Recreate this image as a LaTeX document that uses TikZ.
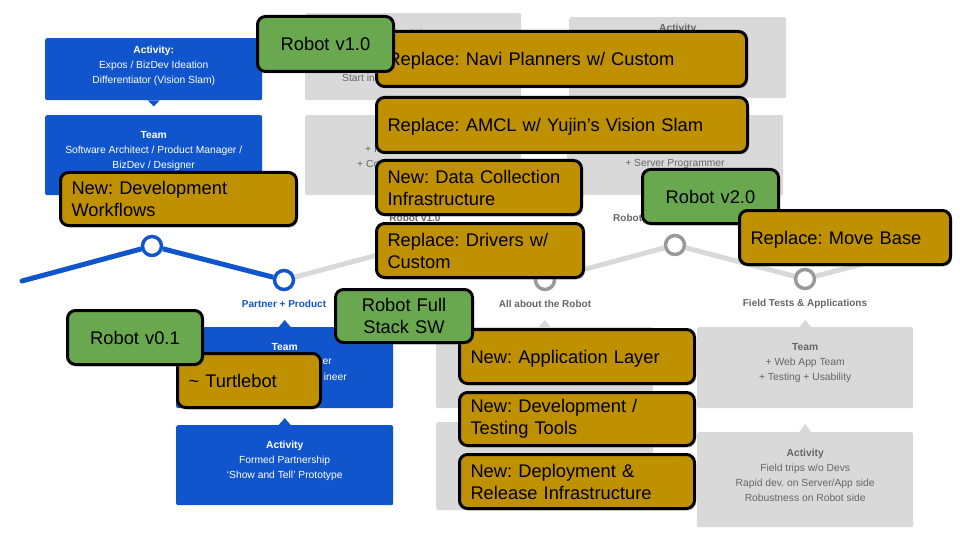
\documentclass[tikz,border=0pt]{standalone}
\usepackage{fontspec}
\setmainfont{Liberation Sans}
\frenchspacing
\usepackage{tikz}
\usetikzlibrary{positioning,shadows}
\definecolor{gblue}{HTML}{1155CC}
\definecolor{lgrey}{HTML}{D9D9D9}
\definecolor{mgrey}{HTML}{999999}
\definecolor{dgrey}{HTML}{666666}
\definecolor{gold}{HTML}{BF9000}
\definecolor{leaf}{HTML}{6AA84F}

\begin{document}
\begin{tikzpicture}[x=1pt, y=-1pt,
  card/.style={rounded corners=2pt, anchor=north west, inner sep=0pt},
  bluecard/.style={card, fill=gblue},
  greycard/.style={card, fill=lgrey},
  cardtext/.style={font=\fontsize{10.3}{15}\selectfont, align=center, inner sep=0pt},
  bluetext/.style={cardtext, text=white},
  greytext/.style={cardtext, text=dgrey},
  dot/.style={circle, draw=#1, fill=white, line width=3.5pt, minimum size=19pt, inner sep=0pt},
  track/.style={draw=#1, line width=5pt},
  stage/.style={font=\fontsize{10}{12}\selectfont\bfseries, inner sep=0pt, text=#1},
  note/.style={draw=black, line width=3pt, rounded corners=8pt, anchor=north west,
    inner xsep=11pt, inner ysep=0pt, font=\fontsize{18.3}{22}\selectfont,
    drop shadow={shadow xshift=1.5pt, shadow yshift=-2pt, opacity=.35}},
  goldnote/.style={note, fill=gold, align=left},
  leafnote/.style={note, fill=leaf, align=center},
  oneline/.style={text depth=0pt}
]
\useasboundingbox (0,0) rectangle (960,540);

% first stage cards
\node[bluecard, minimum width=217pt, minimum height=62pt] (act1) at (45,38) {};
\node[bluetext, below=8pt of act1.north] (act1txt) {\textbf{Activity:}\\Expos / BizDev Ideation\\Differentiator (Vision Slam)};
\fill[gblue] ([xshift=-6pt]act1.south) -- ([xshift=6pt]act1.south) -- ([yshift=-6pt]act1.south) -- cycle;
\node[bluecard, minimum width=217pt, minimum height=80pt] (team1) at (45,115) {};
\node[bluetext, below=16pt of team1.north] (team1txt) {\textbf{Team}\\Software Architect / Product Manager /\\BizDev / Designer};

% robot v1.0 cards
\node[greycard, minimum width=216pt, minimum height=87pt] (act2) at (305,13) {};
\node[greytext, below=16.5pt of act2.north] (act2title) {\textbf{Activity}};
\node[greytext, anchor=west] (act2txt) at (342,78) {Start in};
\node[greycard, minimum width=216pt, minimum height=80pt] (team2) at (305,115) {};
\node[greytext, anchor=west] (team2a) at (365,149) {+ I};
\node[greytext, anchor=west] (team2b) at (357,164) {+ Co};

% robot v2.0 cards
\node[greycard, minimum width=217pt, minimum height=81pt] (act3) at (569,17) {};
\node[greytext, below=6.5pt of act3.north] (act3title) {\textbf{Activity}};
\node[greycard, minimum width=216pt, minimum height=80pt] (team3) at (567,115) {};
\node[greytext] (team3txt) at (675,164) {+ Server Programmer};

% partner + product cards
\node[bluecard, minimum width=217pt, minimum height=81pt] (team4) at (176,327) {};
\fill[gblue] ([xshift=-6pt]team4.north) -- ([xshift=6pt]team4.north) -- ([yshift=7pt]team4.north) -- cycle;
\node[bluetext, below=16.5pt of team4.north] (team4title) {\textbf{Team}};
\node[bluetext, anchor=east] (team4a) at (332,362) {er};
\node[bluetext, anchor=east] (team4b) at (347,377) {ineer};
\node[bluecard, minimum width=217pt, minimum height=80pt] (act4) at (176,425) {};
\fill[gblue] ([xshift=-6pt]act4.north) -- ([xshift=6pt]act4.north) -- ([yshift=7pt]act4.north) -- cycle;
\node[bluetext, below=15.5pt of act4.north] (act4txt) {\textbf{Activity}\\Formed Partnership\\‘Show and Tell’ Prototype};

% all about the robot cards
\node[greycard, minimum width=217pt, minimum height=81pt] (team5) at (436,327) {};
\fill[lgrey] ([xshift=-6pt]team5.north) -- ([xshift=6pt]team5.north) -- ([yshift=7pt]team5.north) -- cycle;
\node[greycard, minimum width=217pt, minimum height=88pt] (act5) at (436,422) {};

% field tests cards
\node[greycard, minimum width=216pt, minimum height=81pt] (team6) at (697,327) {};
\fill[lgrey] ([xshift=-6pt]team6.north) -- ([xshift=6pt]team6.north) -- ([yshift=7pt]team6.north) -- cycle;
\node[greytext, below=16.5pt of team6.north] (team6txt) {\textbf{Team}\\+ Web App Team\\+ Testing + Usability};
\node[greycard, minimum width=216pt, minimum height=95pt] (act6) at (697,432) {};
\fill[lgrey] ([xshift=-6pt]act6.north) -- ([xshift=6pt]act6.north) -- ([yshift=8pt]act6.north) -- cycle;
\node[greytext, below=16.5pt of act6.north] (act6txt) {\textbf{Activity}\\Field trips w/o Devs\\Rapid dev. on Server/App side\\Robustness on Robot side};

% timeline
\coordinate (t0) at (22,281);
\coordinate (t7) at (935,245);
\node[dot=gblue] (m1) at (152,246) {};
\node[dot=gblue] (m2) at (284,280) {};
\node[dot=mgrey] (m3) at (415,245) {};
\node[dot=mgrey] (m4) at (545,280) {};
\node[dot=mgrey] (m5) at (675,245) {};
\node[dot=mgrey] (m6) at (805,279) {};
\draw[track=gblue, line cap=round] (t0) -- (m1);
\draw[track=gblue] (m1) -- (m2);
\draw[track=lgrey] (m2) -- (m3) -- (m4) -- (m5) -- (m6) -- (t7);
\node[stage=gblue, below=9pt of m2] (lbl2) {Partner + Product};
\node[stage=dgrey, below=9pt of m4] (lbl4) {All about the Robot};
\node[stage=dgrey, below=9pt of m6] (lbl6) {Field Tests \& Applications};
\node[stage=dgrey, above=12pt of m3] (lbl3) {Robot v1.0};
\node[stage=dgrey, anchor=west] (lbl5) at (613,218) {Robot v2.0};

% sticky notes
\node[goldnote, text width=214pt, minimum height=53pt] (flow) at (59,171) {New: Development\\Workflows};
\node[goldnote, oneline, text width=348pt, minimum height=55pt] (navi) at (375,30) {Replace: Navi Planners w/ Custom};
\node[leafnote, text width=114pt, minimum height=55pt] (v10) at (256,15) {Robot v1.0};
\node[goldnote, oneline, text width=349pt, minimum height=55pt] (amcl) at (375,96) {Replace: AMCL w/ Yujin’s Vision Slam};
\node[goldnote, text width=183pt, minimum height=54pt] (data) at (375,159) {New: Data Collection\\Infrastructure};
\node[goldnote, text width=185pt, minimum height=54pt] (drivers) at (375,222) {Replace: Drivers w/\\Custom};
\node[leafnote, text width=114pt, minimum height=54pt] (v20) at (641,168) {Robot v2.0};
\node[goldnote, oneline, text width=189pt, minimum height=54pt] (movebase) at (738,209) {Replace: Move Base};
\node[goldnote, text width=121pt, minimum height=54pt] (turtle) at (176,352) {\textasciitilde{} Turtlebot};
\node[leafnote, text width=113pt, minimum height=54pt] (v01) at (66,309) {Robot v0.1};
\node[goldnote, oneline, text width=213pt, minimum height=54pt] (applayer) at (458,328) {New: Application Layer};
\node[leafnote, text width=115pt, minimum height=53pt] (fullstack) at (334,288) {Robot Full\\Stack SW};
\node[goldnote, text width=213pt, minimum height=53pt] (devtools) at (458,391) {New: Development /\\Testing Tools};
\node[goldnote, text width=213pt, minimum height=54pt] (deploy) at (458,453) {New: Deployment \&\\Release Infrastructure};
\end{tikzpicture}
\end{document}
